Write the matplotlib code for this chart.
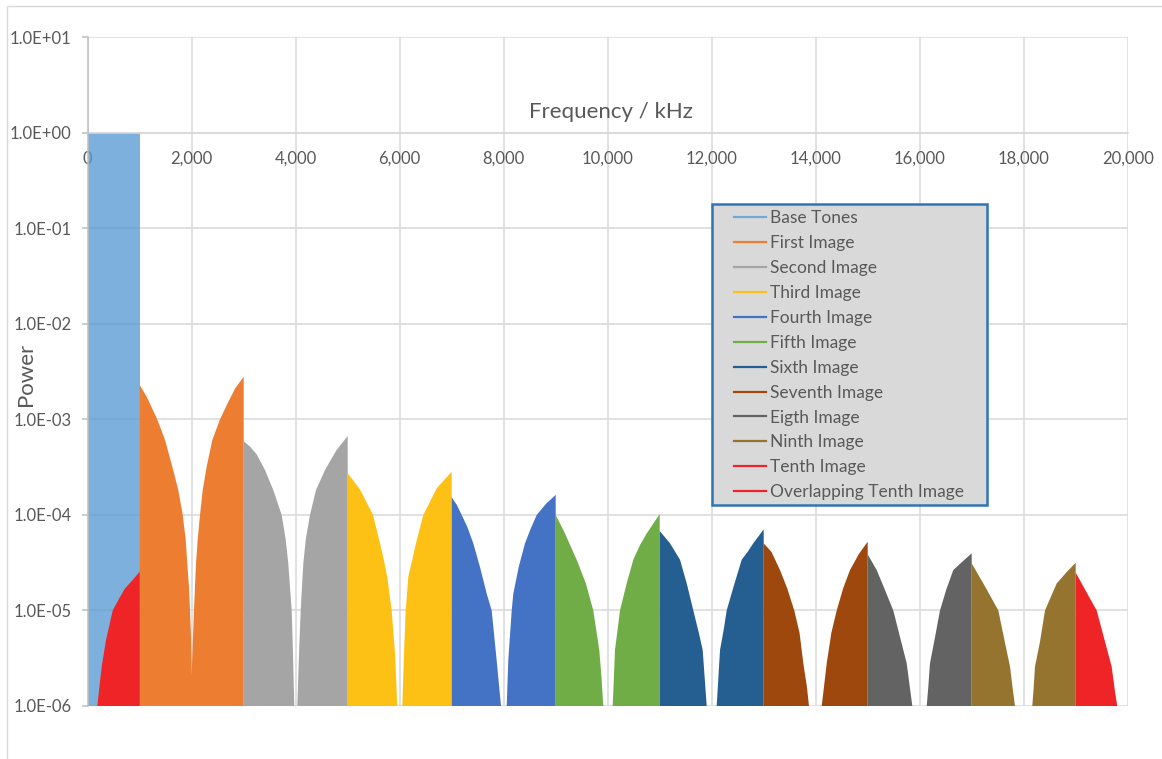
import matplotlib
matplotlib.use('Agg')
import matplotlib.pyplot as plt
from matplotlib.lines import Line2D
from matplotlib.patches import Rectangle
from matplotlib.ticker import FixedLocator, FixedFormatter, NullLocator

plt.rcParams['font.family'] = ['Lato', 'DejaVu Sans']

# power spectrum of the base tones and their images (frequency, power)
base_f = [0, 1000]
base_p = [1.0, 1.0]

first_f = [1000, 1134, 1338, 1487, 1627, 1743, 1827, 1885, 1915, 1948, 1967, 1987, 2000,
           2025, 2044, 2063, 2083, 2115, 2160, 2212, 2288, 2397, 2544, 2705, 2833, 3000]
first_p = [2.3e-3, 1.73e-3, 1.0e-3, 6.1e-4, 3.2e-4, 1.82e-4, 1.0e-4, 5.5e-5, 3.1e-5, 1.77e-5, 1.0e-5, 5.3e-6, 2.1e-6,
           5.3e-6, 1.0e-5, 1.77e-5, 3.1e-5, 5.5e-5, 1.0e-4, 1.82e-4, 3.2e-4, 6.1e-4, 1.0e-3, 1.53e-3, 2.1e-3, 2.8e-3]

second_f = [3000, 3121, 3250, 3410, 3569, 3731, 3808, 3858, 3890, 3923, 3948, 3973,
            4031, 4064, 4096, 4121, 4147, 4192, 4275, 4390, 4563, 4788, 5000]
second_p = [5.9e-4, 5.2e-4, 4.3e-4, 2.95e-4, 1.82e-4, 1.0e-4, 5.5e-5, 3.1e-5, 1.77e-5, 1.0e-5, 3.56e-6, 1.0e-6,
            1.0e-6, 3.56e-6, 1.0e-5, 1.77e-5, 3.1e-5, 5.5e-5, 1.0e-4, 1.82e-4, 2.95e-4, 4.8e-4, 6.7e-4]

third_f = [5000, 5236, 5487, 5621, 5700, 5760, 5846, 5910, 5954,
           6050, 6083, 6115, 6166, 6231, 6313, 6454, 6712, 7000]
third_p = [2.73e-4, 1.85e-4, 1.0e-4, 5.05e-5, 3.3e-5, 2.26e-5, 1.0e-5, 3.56e-6, 1.0e-6,
           1.0e-6, 3.56e-6, 1.0e-5, 2.26e-5, 3.2e-5, 5.05e-5, 1.0e-4, 1.9e-4, 2.84e-4]

fourth_f = [7000, 7100, 7192, 7300, 7415, 7550, 7673, 7769, 7865, 7948,
            8058, 8088, 8154, 8185, 8290, 8410, 8520, 8635, 8820, 9000]
fourth_p = [1.53e-4, 1.27e-4, 1.0e-4, 7.5e-5, 5.05e-5, 2.77e-5, 1.5e-5, 1.0e-5, 3.0e-6, 1.0e-6,
            1.0e-6, 3.0e-6, 1.0e-5, 1.5e-5, 2.87e-5, 5.05e-5, 7.2e-5, 1.0e-4, 1.32e-4, 1.62e-4]

fifth_f = [9000, 9179, 9290, 9403, 9580, 9723, 9838, 9880, 9915,
           10096, 10120, 10140, 10237, 10365, 10493, 10621, 10750, 11000]
fifth_p = [1.0e-4, 6.4e-5, 4.66e-5, 3.4e-5, 1.92e-5, 1.0e-5, 3.85e-6, 2.03e-6, 1.0e-6,
           1.0e-6, 2.03e-6, 3.85e-6, 1.0e-5, 1.92e-5, 3.4e-5, 4.84e-5, 6.4e-5, 1.02e-4]

sixth_f = [11000, 11198, 11390, 11520, 11647, 11760, 11827, 11904,
           12096, 12160, 12230, 12288, 12420, 12577, 12690, 12800, 13000]
sixth_p = [6.8e-5, 5.05e-5, 3.4e-5, 1.92e-5, 1.0e-5, 5.6e-6, 3.85e-6, 1.0e-6,
           1.0e-6, 3.85e-6, 6.25e-6, 1.0e-5, 1.77e-5, 3.4e-5, 4.1e-5, 5.05e-5, 7.07e-5]

seventh_f = [13000, 13150, 13313, 13450, 13588, 13690, 13762, 13830, 13871,
             14115, 14160, 14212, 14300, 14404, 14530, 14660, 14830, 15000]
seventh_p = [5.05e-5, 4.1e-5, 2.65e-5, 1.72e-5, 1.0e-5, 5.8e-6, 2.8e-6, 1.6e-6, 1.0e-6,
             1.0e-6, 1.6e-6, 2.8e-6, 5.8e-6, 1.0e-5, 1.72e-5, 2.65e-5, 3.9e-5, 5.25e-5]

eighth_f = [15000, 15173, 15330, 15492, 15630, 15750, 15810, 15858,
            16135, 16165, 16198, 16290, 16390, 16510, 16646, 16820, 17000]
eighth_p = [3.87e-5, 2.65e-5, 1.65e-5, 1.0e-5, 5.06e-6, 2.8e-6, 1.58e-6, 1.0e-6,
            1.0e-6, 1.58e-6, 2.8e-6, 5.1e-6, 1.0e-5, 1.65e-5, 2.65e-5, 3.24e-5, 3.97e-5]

ninth_f = [17000, 17110, 17223, 17370, 17512, 17640, 17737, 17790, 17833,
           18165, 18190, 18217, 18310, 18410, 18520, 18635, 18820, 19000]
ninth_p = [3.12e-5, 2.45e-5, 1.92e-5, 1.38e-5, 1.0e-5, 4.6e-6, 2.58e-6, 1.5e-6, 1.0e-6,
           1.0e-6, 1.5e-6, 2.58e-6, 4.6e-6, 1.0e-5, 1.38e-5, 1.92e-5, 2.5e-5, 3.16e-5]

tenth_f = [19000, 19115, 19260, 19404, 19560, 19692, 19760, 19800]
tenth_p = [2.49e-5, 1.92e-5, 1.38e-5, 1.0e-5, 4.8e-6, 2.58e-6, 1.36e-6, 1.0e-6]

overlap_f = [185, 230, 269, 352, 481, 600, 717, 860, 1000]
overlap_p = [1.0e-6, 1.67e-6, 2.58e-6, 4.9e-6, 1.0e-5, 1.32e-5, 1.7e-5, 2.07e-5, 2.55e-5]

labels = ['Base Tones', 'First Image', 'Second Image', 'Third Image', 'Fourth Image',
          'Fifth Image', 'Sixth Image', 'Seventh Image', 'Eigth Image', 'Ninth Image',
          'Tenth Image', 'Overlapping Tenth Image']

x_ticks = [0, 2000, 4000, 6000, 8000, 10000, 12000, 14000, 16000, 18000, 20000]
y_ticks = [1e-6, 1e-5, 1e-4, 1e-3, 1e-2, 1e-1, 1e0, 1e1]
y_ticklabels = ['1.0E-06', '1.0E-05', '1.0E-04', '1.0E-03', '1.0E-02', '1.0E-01', '1.0E+00', '1.0E+01']

series = [(base_f, base_p), (first_f, first_p), (second_f, second_p), (third_f, third_p),
          (fourth_f, fourth_p), (fifth_f, fifth_p), (sixth_f, sixth_p), (seventh_f, seventh_p),
          (eighth_f, eighth_p), (ninth_f, ninth_p), (tenth_f, tenth_p), (overlap_f, overlap_p)]
colors = ['#5B9BD5', '#ED7D31', '#A5A5A5', '#FDC116', '#4472C4', '#70AD47',
          '#255E91', '#9E480E', '#636363', '#94742F', '#EE2426', '#EE2426']
legend_colors = ['#6FA8DC'] + colors[1:]

txt = '#595959'
W, H = 1162, 759
fig = plt.figure(figsize=(W / 100, H / 100), dpi=100)
ax = fig.add_axes([87.7 / W, 1 - 706 / H, 1040 / W, (706 - 37.3) / H])

for i, (f, p) in enumerate(series):
    if i == 0:
        ax.fill_between(f, 1e-6, p, color=colors[i], alpha=0.79, lw=0, zorder=2)
    else:
        ax.fill_between(f, 1e-6, p, facecolor=colors[i], lw=0, zorder=3)

ax.set_yscale('log')
ax.set_xlim(0, 20000)
ax.set_ylim(1e-6, 1e1)
ax.yaxis.set_major_locator(FixedLocator(y_ticks))
ax.yaxis.set_major_formatter(FixedFormatter(y_ticklabels))
ax.yaxis.set_minor_locator(NullLocator())
ax.set_xticks(x_ticks)
ax.set_xticklabels(['{:,}'.format(v) for v in x_ticks])

ax.set_axisbelow(True)
ax.grid(True, color='#D9D9D9', lw=1.1)

for s in ['top', 'right']:
    ax.spines[s].set_visible(False)
ax.spines['bottom'].set_position(('data', 1.0))
ax.spines['bottom'].set_color('#D9D9D9')
ax.spines['bottom'].set_linewidth(1.1)
ax.spines['left'].set_color('#BFBFBF')
ax.spines['left'].set_linewidth(1.1)
ax.spines['left'].set_zorder(4)

ax.tick_params(axis='x', length=0, pad=13, labelsize=12, labelcolor=txt)
ax.tick_params(axis='y', direction='out', length=4.5, width=1.1, color='#BFBFBF',
               pad=7, labelsize=12, labelcolor=txt)

fig.text(611 / W, 1 - 112 / H, 'Frequency / kHz', ha='center', va='center',
         fontsize=16, color=txt)
fig.text(26 / W, 1 - 374 / H, 'Power', ha='center', va='center', rotation=90,
         fontsize=16, color=txt)

# legend box
ax.add_patch(Rectangle((712 / W, 1 - 505 / H), 275 / W, 301 / H, transform=fig.transFigure,
                       facecolor='#D9D9D9', edgecolor='#2E75B6', lw=1.8, zorder=4))
handles = [Line2D([0], [0], color=c, lw=1.6) for c in legend_colors]
ax.legend(handles, labels, loc='upper left', bbox_to_anchor=(734 / W, 1 - 210 / H),
          bbox_transform=fig.transFigure, frameon=False, borderpad=0, borderaxespad=0,
          fontsize=12.5, labelcolor=txt, handlelength=1.85, handletextpad=0.2,
          labelspacing=0.515)

# chart border
fig.add_artist(Rectangle((6.5 / W, -0.05), 1.2, 1.05 - 6 / H, transform=fig.transFigure,
                         fill=False, edgecolor='#D9D9D9', lw=1))

fig.savefig('out.png', dpi=100)
